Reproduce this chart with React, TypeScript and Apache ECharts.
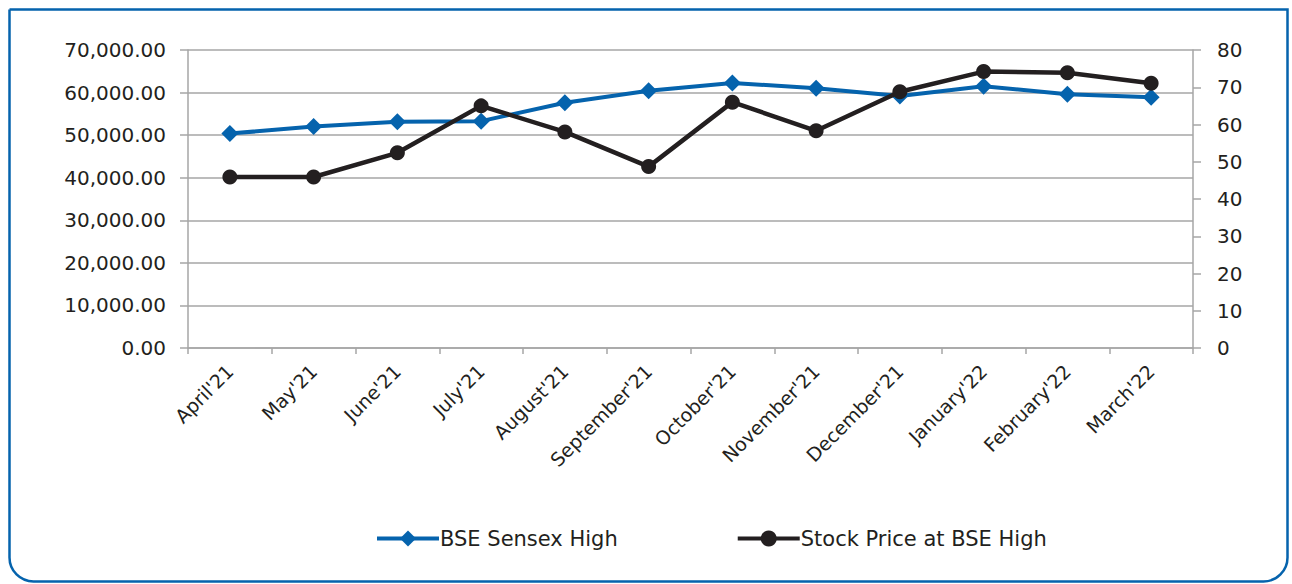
import React, { useEffect, useRef } from "react";
import * as echarts from "echarts";

const categories = [
  "April'21", "May'21", "June'21", "July'21", "August'21", "September'21",
  "October'21", "November'21", "December'21", "January'22", "February'22", "March'22",
];
const sensexHigh = [
  50375.77, 52013.22, 53126.73, 53290.81, 57625.26, 60412.32,
  62245.43, 61036.56, 59203.37, 61475.15, 59618.51, 58890.92,
];
const stockPrice = [45.9, 45.9, 52.4, 65.0, 58.0, 48.7, 66.0, 58.3, 68.8, 74.2, 73.9, 71.1];

const BLUE = "#0563ad";
const BLACK = "#231f20";
const GRID = "#a6a6a6";
const FONT = "DejaVu Sans";

export default function App() {
  const ref = useRef<HTMLDivElement>(null);
  useEffect(() => {
    document.body.style.margin = "0";
    const chart = echarts.init(ref.current!, null, { renderer: "svg" });
    chart.setOption({
      animation: false,
      backgroundColor: "#ffffff",
      textStyle: { fontFamily: FONT, color: BLACK },
      graphic: [
        {
          type: "rect",
          shape: { x: 9.5, y: 9.5, width: 1278, height: 572, r: [0, 0, 24, 24] },
          style: { fill: "none", stroke: BLUE, lineWidth: 2.5 },
          silent: true,
        },
      ],
      grid: { left: 188, right: 99, top: 50, bottom: 236, containLabel: false },
      legend: {
        left: 370,
        top: 523,
        itemWidth: 62,
        itemHeight: 20,
        itemGap: 118,
        lineStyle: { width: 4 },
        textStyle: { fontFamily: FONT, fontSize: 21, color: BLACK, padding: [0, 0, 0, -4] },
        data: ["BSE Sensex High", "Stock Price at BSE High"],
      },
      xAxis: {
        type: "category",
        data: categories,
        boundaryGap: true,
        axisLine: { show: true, lineStyle: { color: GRID, width: 1.5 } },
        axisTick: { show: true, length: 6, alignWithLabel: false, lineStyle: { color: GRID, width: 1.5 } },
        axisLabel: {
          rotate: 45,
          interval: 0,
          margin: 20,
          fontFamily: FONT,
          fontSize: 19,
          color: BLACK,
        },
        splitLine: { show: false },
      },
      yAxis: [
        {
          type: "value",
          min: 0,
          max: 70000,
          interval: 10000,
          position: "left",
          axisLine: { show: true, lineStyle: { color: GRID, width: 1.5 } },
          axisTick: { show: true, length: 8, lineStyle: { color: GRID, width: 1.5 } },
          axisLabel: {
            margin: 22,
            fontFamily: FONT,
            fontSize: 20,
            color: BLACK,
            formatter: (v: number) =>
              v.toLocaleString("en-US", { minimumFractionDigits: 2, maximumFractionDigits: 2 }),
          },
          splitLine: { show: true, lineStyle: { color: GRID, width: 1.5 } },
        },
        {
          type: "value",
          min: 0,
          max: 80,
          interval: 10,
          position: "right",
          axisLine: { show: true, lineStyle: { color: GRID, width: 1.5 } },
          axisTick: { show: true, length: 8, lineStyle: { color: GRID, width: 1.5 } },
          axisLabel: { margin: 24, fontFamily: FONT, fontSize: 20, color: BLACK },
          splitLine: { show: false },
        },
      ],
      series: [
        {
          name: "BSE Sensex High",
          type: "line",
          yAxisIndex: 0,
          data: sensexHigh,
          symbol: "diamond",
          symbolSize: 17,
          lineStyle: { color: BLUE, width: 4 },
          itemStyle: { color: BLUE },
          z: 2,
        },
        {
          name: "Stock Price at BSE High",
          type: "line",
          yAxisIndex: 1,
          data: stockPrice,
          symbol: "circle",
          symbolSize: 15,
          lineStyle: { color: BLACK, width: 4.5 },
          itemStyle: { color: BLACK },
          z: 3,
        },
      ],
    });
    return () => chart.dispose();
  }, []);
  return <div ref={ref} style={{ width: 1292, height: 584 }} />;
}
